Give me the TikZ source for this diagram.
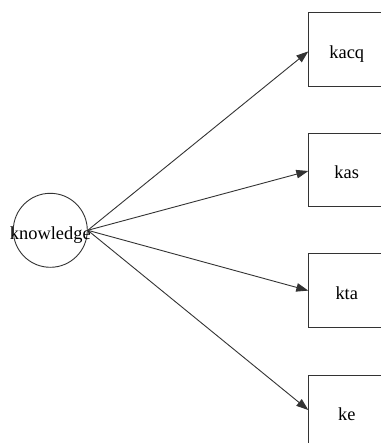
\documentclass[tikz,border=0pt]{standalone}
\usepackage{fontspec}
\setmainfont{Liberation Serif}
\usetikzlibrary{arrows.meta}
\begin{document}
\begin{tikzpicture}[x=1pt,y=-1pt,
  every node/.style={font=\fontsize{18.4pt}{20pt}\selectfont, text=black, text height=17.6pt, text depth=0pt},
  circ/.style={draw=black!80, line width=0.9pt, circle, minimum size=74pt, inner sep=-9pt},
  boxnode/.style={draw=black!80, line width=0.9pt, rectangle, minimum width=80pt, minimum height=73.7pt, inner sep=0pt, anchor=north west},
  link/.style={draw=black!80, line width=0.9pt, -{Triangle[length=12pt,width=8.5pt]}}]
\useasboundingbox (0,0) rectangle (380,443);
\node[circ] (knowledge) at (50.3,230.3) {knowledge};
\node[boxnode] (kacq) at (308.3,12.3) {\hspace*{-4pt}kacq};
\node[boxnode] (kas) at (308.3,132.7) {\hspace*{-4pt}kas};
\node[boxnode] (kta) at (308.3,253.3) {\hspace*{-4pt}kta};
\node[boxnode] (ke) at (308.3,374.7) {\hspace*{-4pt}ke};
\draw[link] (knowledge.east) -- ([yshift=-1.8pt]kacq.west);
\draw[link] (knowledge.east) -- ([yshift=-1pt]kas.west);
\draw[link] (knowledge.east) -- (kta.west);
\draw[link] (knowledge.east) -- ([yshift=2pt]ke.west);
\end{tikzpicture}
\end{document}
